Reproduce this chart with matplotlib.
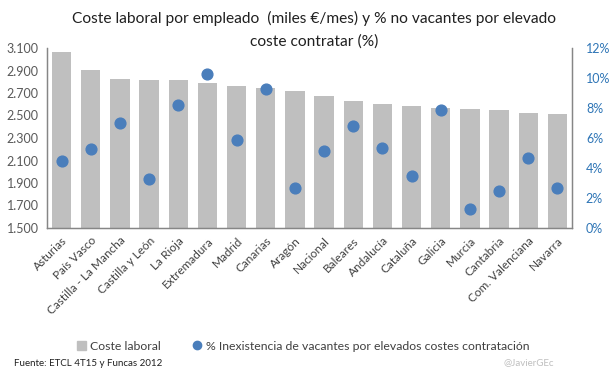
import matplotlib
matplotlib.use("Agg")
import matplotlib.pyplot as plt
from matplotlib.lines import Line2D
from matplotlib.patches import Patch
from matplotlib.ticker import FuncFormatter
import numpy as np

regiones = ["Asturias", "País Vasco", "Castilla - La Mancha", "Castilla y León", "La Rioja",
            "Extremadura", "Madrid", "Canarias", "Aragón", "Nacional", "Baleares", "Andalucía",
            "Cataluña", "Galicia", "Murcia", "Cantabria", "Com. Valenciana", "Navarra"]
coste_laboral = [3065, 2905, 2823, 2814, 2812, 2790, 2760, 2742, 2716, 2670, 2626, 2600,
                 2582, 2564, 2555, 2546, 2519, 2510]
pct_no_vacantes = [4.46, 5.26, 7.0, 3.26, 8.2, 10.28, 5.87, 9.28, 2.66, 5.11, 6.8, 5.33,
                   3.46, 7.87, 1.25, 2.46, 4.66, 2.66]
left_ticks = [1500, 1700, 1900, 2100, 2300, 2500, 2700, 2900, 3100]
right_ticks = [0, 2, 4, 6, 8, 10, 12]

plt.rcParams['font.family'] = ['Lato', 'DejaVu Sans']

fig = plt.figure(figsize=(6.09, 3.78), dpi=100)
ax = fig.add_axes([47/609, 1-228/378, (572-47)/609, (228-48)/378])
x = np.arange(len(regiones))
bar_c = "#BFBFBF"
dot_c = "#4A7EBB"
ax.bar(x, coste_laboral, width=0.66, color=bar_c, zorder=1)
ax.set_ylim(1500, 3100)
ax.set_xlim(-0.5, len(regiones)-0.5)
ax.set_yticks(left_ticks)
ax.yaxis.set_major_formatter(FuncFormatter(lambda v, p: f"{int(v):,}".replace(",", ".")))
ax.tick_params(axis='y', length=0, labelsize=9, colors="#595959", pad=6)
ax.set_xticks(x)
ax.set_xticklabels(regiones, rotation=45, ha='right', rotation_mode='anchor', fontsize=8.5, color="#404040")
ax.tick_params(axis='x', length=0, pad=5)
ax.spines['top'].set_visible(False)
for s in ['left', 'bottom', 'right']:
    ax.spines[s].set_color("#868686")
    ax.spines[s].set_linewidth(0.9)

ax2 = ax.twinx()
ax2.scatter(x, pct_no_vacantes, s=60, color=dot_c, zorder=3)
ax2.set_ylim(0, 12)
ax2.set_yticks(right_ticks)
ax2.yaxis.set_major_formatter(FuncFormatter(lambda v, p: f"{int(v)}%"))
ax2.tick_params(axis='y', length=0, labelsize=9, colors="#2E75B6", pad=10)
ax2.spines['top'].set_visible(False)
for s in ['left', 'bottom', 'right']:
    ax2.spines[s].set_color("#868686")
    ax2.spines[s].set_linewidth(0.9)

fig.text(314/609, 1-18/378, "Coste laboral por empleado  (miles €/mes) y % no vacantes por elevado",
         ha='center', va='center', fontsize=11.2, color="#202020")
fig.text(314/609, 1-42/378, "coste contratar (%)", ha='center', va='center', fontsize=11.2, color="#202020")

handles = [Patch(color=bar_c, label="Coste laboral"),
           Line2D([], [], marker='o', linestyle='none', color=dot_c, markersize=6,
                  label="% Inexistencia de vacantes por elevados costes contratación")]
fig.legend(handles=handles, loc='center', bbox_to_anchor=(303/609, 1-346/378), ncol=2,
           frameon=False, fontsize=8.8, handlelength=0.8, handletextpad=0.3, columnspacing=2.6,
           labelcolor="#404040")

fig.text(14/609, 1-363/378, "Fuente: ETCL 4T15 y Funcas 2012", ha='left', va='center', fontsize=7, color="#202020")
fig.text(503/609, 1-363/378, "@JavierGEc", ha='left', va='center', fontsize=7, color="#BFBFBF")

fig.savefig("out.png", dpi=100)
